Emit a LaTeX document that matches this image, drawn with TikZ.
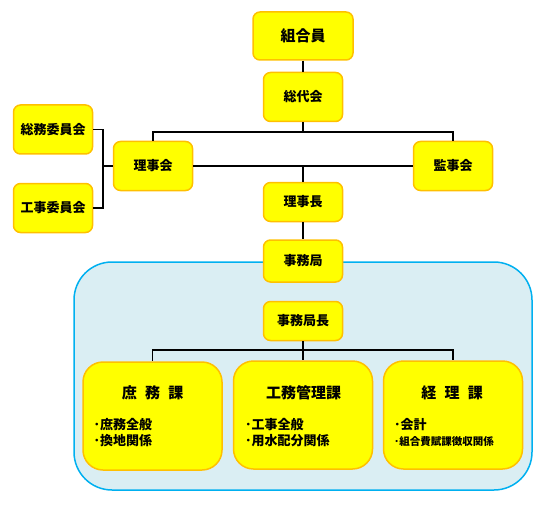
\documentclass[tikz,border=0pt]{standalone}
\usepackage{fontspec}
\setmainfont{Noto Sans CJK JP}
\usetikzlibrary{positioning}
\definecolor{boxyellow}{RGB}{255,255,0}
\definecolor{boxedge}{RGB}{255,192,0}
\definecolor{officeblue}{RGB}{218,238,243}
\definecolor{officeedge}{RGB}{0,176,240}

\begin{document}
\begin{tikzpicture}[x=1pt, y=-1pt,
  unit/.style={draw=boxedge, fill=boxyellow, line width=1.5pt, rounded corners=7pt, minimum width=79pt, minimum height=49pt, inner sep=0pt, font=\fontsize{13}{15}\selectfont\bfseries},
  section/.style={draw=boxedge, fill=boxyellow, line width=1.5pt, rounded corners=20pt, minimum width=139pt, minimum height=108pt, inner sep=0pt},
  sectitle/.style={inner sep=0pt, font=\fontsize{15}{17}\selectfont\bfseries},
  duties/.style={anchor=west, align=left, inner sep=0pt, font=\fontsize{13}{16.5}\selectfont\bfseries},
  link/.style={line width=1.5pt}]
  \useasboundingbox (0,0) rectangle (548,505);

  % Office frame
  \node[draw=officeedge, fill=officeblue, line width=1.5pt, rounded corners=38pt, minimum width=458pt, minimum height=228pt] (office) at (303,376) {};

  % Assembly and board
  \node[unit, minimum width=100pt, minimum height=48pt, font=\fontsize{15}{17}\selectfont\bfseries] (kumiaiin) at (303,36) {組合員};
  \node[unit] (sodaikai) at (303,97) {総代会};
  \node[unit] (rijikai) at (153,166) {理事会};
  \node[unit] (kanjikai) at (453,166) {監事会};
  \node[unit] (somu) at (53,129.5) {総務委員会};
  \node[unit] (koji) at (53,208) {工事委員会};
  \node[unit, minimum height=39pt] (richo) at (303,202) {理事長};
  \node[unit, minimum height=42pt] (jimukyoku) at (303,261) {事務局};
  \node[unit, minimum height=39pt] (kyokucho) at (303,321) {事務局長};

  % Sections
  \node[section] (shomu) at (152.5,416) {};
  \node[sectitle] (shomu-t) at (152.5,393) {庶\hspace{.55em}務\hspace{.55em}課};
  \node[duties] (shomu-d) at (93.5,432.5) {･庶務全般\\･換地関係};

  \node[section] (komu) at (303,415) {};
  \node[sectitle] (komu-t) at (303.5,393) {工務管理課};
  \node[duties] (komu-d) at (245,432.5) {･工事全般\\･用水配分関係};

  \node[section] (keiri) at (453,415) {};
  \node[sectitle] (keiri-t) at (452,393) {経\hspace{.55em}理\hspace{.55em}課};
  \node[duties] (keiri-d) at (394,432.5) {･会計\\{\fontsize{10.5}{16.5}\selectfont ･組合費賦課徴収関係}};

  % Connectors
  \coordinate (split) at (303,132);
  \coordinate (mid) at (303,166);
  \coordinate (bracket) at (103,166);
  \coordinate (split2) at (303,350);
  \draw[link] (kumiaiin) -- (sodaikai);
  \draw[link] (sodaikai) -- (split);
  \draw[link] (split) -| (rijikai.north);
  \draw[link] (split) -| (kanjikai.north);
  \draw[link] (rijikai) -- (kanjikai);
  \draw[link] (mid) -- (richo);
  \draw[link] (richo) -- (jimukyoku);
  \draw[link] (somu.east) -| (bracket) -- (rijikai.west);
  \draw[link] (koji.east) -| (bracket);
  \draw[link] (kyokucho) -- (split2);
  \draw[link] (split2) -| (shomu.north);
  \draw[link] (split2) -- (komu);
  \draw[link] (split2) -| (keiri.north);
\end{tikzpicture}
\end{document}
